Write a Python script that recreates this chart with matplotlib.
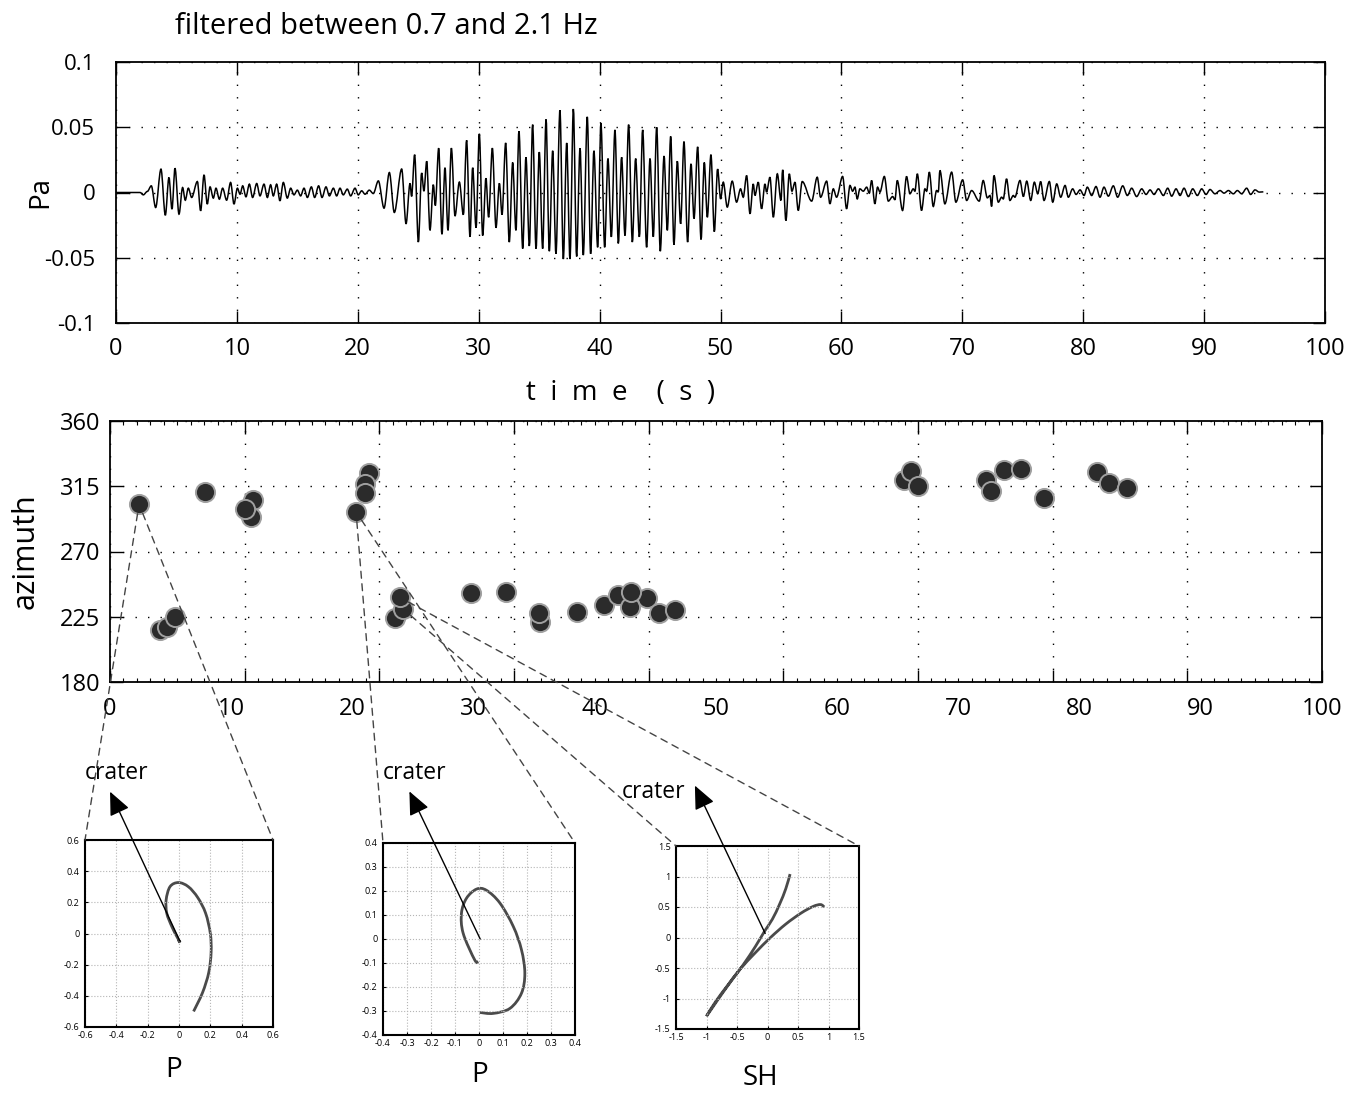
import numpy as np
import matplotlib
matplotlib.use('Agg')
import matplotlib.pyplot as plt
from matplotlib.patches import ConnectionPatch, PathPatch
from matplotlib.path import Path
from matplotlib.ticker import FuncFormatter

plt.rcParams['font.family'] = ['Open Sans', 'DejaVu Sans']

# ---- filtered pressure trace, read as successive extrema (s, Pa) ----
t_onset = [0, 1.99, 2.26, 2.59, 2.92, 3.28, 3.72, 4.08, 4.38, 4.63,
           4.88, 5.21, 5.51, 5.73, 5.98, 6.26, 6.73, 7.00, 7.28, 7.55,
           7.78, 8.05, 8.27, 8.55, 8.82, 9.15, 9.48, 9.76, 10.04, 10.26,
           10.48, 10.75, 11.03, 11.30, 11.64, 11.91, 12.24, 12.52, 12.79, 13.01,
           13.29, 13.56, 13.84, 14.17, 14.45, 14.72, 15.00, 15.27, 15.55, 15.83,
           16.16, 16.43, 16.76, 17.04, 17.37, 17.65, 17.98, 18.25, 18.53, 18.80,
           19.13, 19.41, 19.77, 20.04, 20.32, 20.60, 20.95, 21.28, 21.70, 22.17,
           22.61, 23.02]
p_onset = [0, 0, -0.0018, 0.0008, 0.0051, -0.0115, 0.0179, -0.0174, 0.0115, -0.0128,
           0.0186, -0.0166, 0.0038, -0.0059, 0.0033, -0.0038, 0.0084, -0.0140, 0.0135, -0.0089,
           0.0043, -0.0043, 0.0033, -0.0051, 0.0033, -0.0059, 0.0077, -0.0089, 0.0033, -0.0013,
           0.0051, -0.0033, 0.0064, -0.0038, 0.0069, -0.0026, 0.0064, -0.0038, 0.0059, -0.0026,
           0.0064, -0.0064, 0.0077, -0.0043, 0.0033, -0.0018, 0.0018, -0.0026, 0.0033, -0.0038,
           0.0043, -0.0038, 0.0051, -0.0038, 0.0043, -0.0026, 0.0033, -0.0026, 0.0033, -0.0018,
           0.0026, -0.0026, 0.0033, -0.0018, 0.0013, -0.0013, 0.0018, -0.0008, 0.0089, -0.0120,
           0.0153, -0.0153]

t_main = [23.63, 23.99, 24.32, 24.45, 24.70, 25.01, 25.28, 25.47, 25.70, 25.97,
          26.25, 26.41, 26.69, 26.96, 27.21, 27.46, 27.74, 28.04, 28.40, 28.73,
          29.00, 29.28, 29.50, 29.78, 30.05, 30.33, 30.60, 30.82, 31.13, 31.43,
          31.71, 31.93, 32.23, 32.53, 32.81, 33.08, 33.33, 33.64, 33.91, 34.19,
          34.46, 34.74, 35.01, 35.29, 35.57, 35.84, 36.12, 36.39, 36.72, 37.00,
          37.28, 37.55, 37.83, 38.10, 38.38, 38.65, 38.98, 39.26, 39.53, 39.84,
          40.11, 40.42, 40.69, 40.97, 41.27, 41.55, 41.82, 42.10, 42.40, 42.71,
          42.98, 43.29, 43.56, 43.89, 44.17, 44.44, 44.72, 45.02, 45.33, 45.60,
          45.88, 46.15, 46.43, 46.70, 46.98, 47.28, 47.56, 47.81, 48.11, 48.39,
          48.66, 48.91, 49.21, 49.49, 49.76, 50.01]
p_main = [0.018, -0.024, 0.007, -0.003, 0.029, -0.038, 0.015, 0.001, 0.024, -0.029,
          0.006, -0.010, 0.034, -0.032, 0.019, -0.029, 0.034, -0.018, 0.008, -0.017,
          0.040, -0.034, 0.019, -0.027, 0.045, -0.033, 0.011, -0.019, 0.034, -0.027,
          0.007, -0.017, 0.038, -0.038, 0.023, -0.029, 0.047, -0.043, 0.027, -0.041,
          0.052, -0.043, 0.031, -0.043, 0.056, -0.045, 0.032, -0.047, 0.063, -0.051,
          0.038, -0.051, 0.064, -0.049, 0.034, -0.048, 0.058, -0.047, 0.032, -0.042,
          0.053, -0.042, 0.026, -0.034, 0.048, -0.039, 0.027, -0.033, 0.052, -0.038,
          0.026, -0.034, 0.048, -0.042, 0.026, -0.034, 0.050, -0.045, 0.028, -0.029,
          0.043, -0.040, 0.024, -0.024, 0.039, -0.038, 0.022, -0.020, 0.035, -0.036,
          0.023, -0.019, 0.029, -0.030, 0.018, -0.005]

t_coda = [50.23, 50.56, 50.97, 51.33, 51.66, 51.88, 52.16, 52.44, 52.71, 52.85,
          53.12, 53.40, 53.68, 53.81, 54.09, 54.37, 54.70, 55.00, 55.14, 55.41,
          55.69, 55.91, 56.16, 56.43, 56.76, 57.54, 58.00, 58.28, 58.78, 59.05,
          59.33, 59.60, 60.10, 60.43, 60.71, 60.93, 61.12, 61.31, 61.53, 61.81,
          62.09, 62.31, 62.50, 62.77, 62.99, 63.19, 63.55, 63.88, 64.24, 64.43,
          64.62, 65.06, 65.39, 65.67, 65.94, 66.08, 66.28, 66.63, 66.91, 67.05,
          67.27, 67.60, 67.87, 68.01, 68.15, 68.56, 69.12, 69.47, 70.03, 70.36,
          70.77, 71.40, 71.73, 72.07, 72.29, 72.42, 72.62, 72.98, 73.25, 73.39,
          73.66, 73.94, 74.22, 74.35]
p_coda = [0.0079, -0.0112, 0.0087, -0.0074, 0.0028, -0.0036, 0.0130, -0.0163, 0.0066, -0.0023,
          0.0079, -0.0125, 0.0066, 0.0003, 0.0117, -0.0189, 0.0143, -0.0061, 0.0174, -0.0215,
          0.0143, 0.0010, 0.0079, -0.0138, 0.0084, -0.0066, 0.0117, -0.0036, 0.0087, -0.0087,
          0.0028, -0.0036, 0.0123, -0.0125, 0.0054, 0.0010, 0.0041, -0.0049, 0.0028, 0.0010,
          0.0041, -0.0005, 0.0092, -0.0087, 0.0041, 0.0003, 0.0123, -0.0066, -0.0031, -0.0056,
          0.0092, -0.0138, 0.0123, -0.0010, 0.0028, 0.0010, 0.0143, -0.0138, 0.0028, 0.0010,
          0.0156, -0.0107, 0.0015, 0.0003, 0.0169, -0.0087, 0.0156, -0.0074, 0.0097, -0.0061,
          0.0015, -0.0066, 0.0092, -0.0041, -0.0023, -0.0107, 0.0130, -0.0074, -0.0036, -0.0049,
          0.0105, -0.0061, -0.0023, -0.0036]

t_tail = [74.77, 75.05, 75.33, 75.66, 75.96, 76.24, 76.48, 76.76, 77.20, 77.48,
          77.81, 78.14, 78.50, 78.77, 79.13, 79.41, 79.74, 80.07, 80.34, 80.70,
          81.06, 81.39, 81.72, 82.08, 82.49, 82.85, 83.27, 83.65, 84.01, 84.42,
          84.84, 85.20, 85.53, 85.86, 86.22, 86.63, 86.99, 87.32, 87.68, 88.01,
          88.34, 88.70, 89.06, 89.44, 89.80, 90.16, 90.49, 90.90, 91.32, 91.65,
          92.01, 92.42, 92.75, 93.11, 93.52, 93.85, 94.21, 94.57, 94.90]
p_tail = [0.0092, -0.0031, 0.0087, -0.0061, 0.0079, -0.0010, 0.0084, -0.0061, 0.0084, -0.0074,
          0.0066, -0.0036, 0.0054, -0.0036, 0.0028, -0.0015, 0.0020, -0.0023, 0.0041, -0.0023,
          0.0046, -0.0036, 0.0041, -0.0028, 0.0051, -0.0036, 0.0051, -0.0023, 0.0033, -0.0031,
          0.0028, -0.0015, 0.0020, -0.0015, 0.0028, -0.0023, 0.0033, -0.0028, 0.0028, -0.0023,
          0.0033, -0.0031, 0.0028, -0.0023, 0.0028, -0.0015, 0.0023, -0.0010, 0.0015, -0.0005,
          0.0015, -0.0010, 0.0015, -0.0010, 0.0033, -0.0015, 0.0020, 0.0003, 0.0005]

# ---- azimuth estimates (time s, azimuth deg) ----
t_az = [2.4, 4.1, 4.7, 5.4, 7.8, 11.8, 11.6, 11.1, 20.3, 21.4, 21.0, 21.0,
        23.5, 24.2, 23.9, 29.8, 32.7, 35.5, 35.4, 38.5, 40.8, 41.9, 44.3, 42.9,
        43.0, 45.3, 46.6, 65.5, 66.1, 66.7, 72.3, 72.7, 73.8, 75.2, 77.1, 81.4,
        82.4, 83.9]
az = [302.6, 215.9, 218.1, 225.0, 310.8, 305.5, 293.6, 299.3, 297.4, 323.9, 316.6, 310.6,
      224.0, 230.3, 238.4, 241.1, 242.3, 221.6, 227.8, 228.5, 233.4, 240.0, 237.7, 231.9,
      242.3, 227.4, 229.7, 319.3, 325.5, 315.2, 319.3, 311.7, 326.2, 326.7, 307.1, 324.8,
      317.5, 313.6]

# which azimuth point each inset zooms from (left edge, right edge)
link_left = [0, 8, 13]
link_right = [0, 8, 14]

# ---- particle motion insets ----
pm1_x = [0.093, 0.15, 0.19, 0.205, 0.2, 0.17, 0.12, 0.06, -0.003, -0.057, -0.082, -0.078, -0.046, -0.014, 0.007, -0.005]
pm1_y = [-0.5, -0.38, -0.25, -0.12, 0.0, 0.13, 0.23, 0.30, 0.327, 0.301, 0.216, 0.13, 0.045, -0.019, -0.058, -0.04]
pm2_x = [-0.003, -0.018, -0.066, -0.073, -0.052, -0.01, 0.031, 0.087, 0.143, 0.177, 0.191, 0.177, 0.129, 0.059, 0.003]
pm2_y = [-0.094, -0.087, 0.024, 0.108, 0.17, 0.208, 0.203, 0.150, 0.052, -0.045, -0.143, -0.226, -0.289, -0.31, -0.306]
pm3_x = [0.37, 0.30, 0.20, 0.08, -0.05, -0.20, -0.40, -0.60, -0.80, -1.0,
         -0.85, -0.65, -0.45, -0.2, 0.05, 0.30, 0.55, 0.75, 0.87, 0.93]
pm3_y = [1.04, 0.80, 0.55, 0.30, 0.10, -0.15, -0.45, -0.72, -1.0, -1.29,
         -1.05, -0.78, -0.52, -0.25, 0.0, 0.22, 0.40, 0.51, 0.54, 0.50]
pm_names = ['P', 'P', 'SH']
pm_lims = [0.6, 0.4, 1.5]
pm_steps = [0.2, 0.1, 0.5]
crater_from = [(0.007, -0.051), (0.005, 0.0), (-0.038, 0.066)]
crater_to = [(-0.44, 0.91), (-0.29, 0.615), (-1.19, 2.49)]

W, H = 1356, 1093


def box(l, t, r, b):
    return [l / W, 1 - b / H, (r - l) / W, (b - t) / H]


def wave_path(t, p):
    # smooth curve between successive extrema (flat tangent at each one)
    verts = [(t[0], p[0])]
    codes = [Path.MOVETO]
    for i in range(1, len(t)):
        dt = t[i] - t[i - 1]
        verts += [(t[i - 1] + dt / 3, p[i - 1]), (t[i] - dt / 3, p[i]), (t[i], p[i])]
        codes += [Path.CURVE4] * 3
    return Path(verts, codes)


def smooth_path(x, y):
    pts = np.column_stack([x, y])
    n = len(pts)
    verts = [pts[0]]
    codes = [Path.MOVETO]
    for i in range(n - 1):
        p0, p1 = pts[max(i - 1, 0)], pts[i]
        p2, p3 = pts[i + 1], pts[min(i + 2, n - 1)]
        verts += [p1 + (p2 - p0) / 6, p2 - (p3 - p1) / 6, p2]
        codes += [Path.CURVE4] * 3
    return Path(verts, codes)


tick_fmt = FuncFormatter(lambda v, pos: f'{round(v, 3) + 0:g}')
dots = (0, (1, 8))

fig = plt.figure(figsize=(W / 100, H / 100), dpi=100)

# top: pressure trace
ax1 = fig.add_axes(box(116, 62, 1325, 323))
ax1.add_patch(PathPatch(wave_path(t_onset + t_main + t_coda + t_tail,
                                  p_onset + p_main + p_coda + p_tail),
                        fill=False, edgecolor='black', lw=1.1))
ax1.set_xlim(0, 100)
ax1.set_ylim(-0.1, 0.1)
ax1.set_xticks(range(0, 101, 10))
ax1.set_yticks([-0.1, -0.05, 0, 0.05, 0.1])
ax1.yaxis.set_major_formatter(tick_fmt)
ax1.grid(True, color='black', linestyle=dots, lw=1)
ax1.tick_params(direction='in', length=9, width=1, top=True, right=True, labelsize=17)
ax1.tick_params(axis='x', pad=10)
ax1.tick_params(axis='y', pad=15, labelsize=16)
ax1.set_ylabel('Pa', fontsize=20)
ax1.yaxis.set_label_coords(-0.051, 0.5)
for s in ax1.spines.values():
    s.set_linewidth(1.3)

fig.text(175 / W, 1 - 27 / H, 'filtered between 0.7 and 2.1 Hz', fontsize=21, va='center')
fig.text(621 / W, 1 - 393 / H, 't  i  m  e    (  s  )', fontsize=20, ha='center', va='center')

# middle: azimuth
ax2 = fig.add_axes(box(110, 421, 1322, 682))
ax2.scatter(t_az, az, s=190, c='#2b2b2b', edgecolors='#a0a0a0', linewidths=1.4, zorder=3)
ax2.set_xlim(0, 100)
ax2.set_ylim(180, 360)
ax2.set_xticks(np.linspace(0, 100, 10))
ax2.set_xticklabels([])
ax2.set_xticks(np.linspace(0, 100, 91), minor=True)
ax2.set_yticks([180, 225, 270, 315, 360])
ax2.grid(True, which='major', color='black', linestyle=dots, lw=1)
ax2.tick_params(which='major', direction='in', length=9, width=1, top=True, right=True,
                labelsize=17, pad=7)
ax2.tick_params(which='minor', direction='in', length=3, width=0.8, top=True)
ax2.set_ylabel('azimuth', fontsize=22)
ax2.yaxis.set_label_coords(-0.057, 0.5)
for s in ax2.spines.values():
    s.set_linewidth(1.3)
sec = ax2.secondary_xaxis('bottom')
sec.set_xticks(range(0, 101, 10))
sec.tick_params(length=0, labelsize=17, pad=11)
sec.spines['bottom'].set_visible(False)

# bottom: particle motion insets
inset_boxes = [box(85, 840, 273, 1027), box(383, 843, 575, 1035), box(676, 846, 859, 1029)]
curves = [(pm1_x, pm1_y), (pm2_x, pm2_y), (pm3_x, pm3_y)]
crater_text = [(0.0, 1.36), (0.0, 1.365), (-0.295, 1.295)]
name_pos = [(0.47, -0.23), (0.505, -0.21), (0.46, -0.27)]

for k in range(3):
    axi = fig.add_axes(inset_boxes[k])
    cx, cy = curves[k]
    axi.add_patch(PathPatch(smooth_path(cx, cy), fill=False, edgecolor='#4a4a4a', lw=2))
    lim = pm_lims[k]
    ticks = np.round(np.arange(-lim, lim + pm_steps[k] / 2, pm_steps[k]), 2)
    axi.set_xlim(-lim, lim)
    axi.set_ylim(-lim, lim)
    axi.set_xticks(ticks)
    axi.set_yticks(ticks)
    axi.xaxis.set_major_formatter(tick_fmt)
    axi.yaxis.set_major_formatter(tick_fmt)
    axi.grid(True, color='#b5b5b5', linestyle=':', lw=0.8)
    axi.tick_params(direction='in', length=2, labelsize=6.5)
    axi.tick_params(axis='x', pad=3)
    axi.tick_params(axis='y', pad=4)
    for s in axi.spines.values():
        s.set_linewidth(1.5)
    axi.annotate('', xy=crater_to[k], xytext=crater_from[k], annotation_clip=False,
                 arrowprops=dict(arrowstyle='-|>,head_length=0.9,head_width=0.4',
                                 mutation_scale=16, lw=1, color='black',
                                 shrinkA=0, shrinkB=0))
    axi.text(crater_text[k][0], crater_text[k][1], 'crater', transform=axi.transAxes,
             fontsize=16.5, va='center', ha='left')
    axi.text(name_pos[k][0], name_pos[k][1], pm_names[k], transform=axi.transAxes,
             fontsize=20, va='center', ha='center')

    for idx, corner in ((link_left[k], (0, 1)), (link_right[k], (1, 1))):
        con = ConnectionPatch(xyA=(t_az[idx], az[idx]), coordsA=ax2.transData,
                              xyB=corner, coordsB=axi.transAxes,
                              color='#444444', lw=1, linestyle=(0, (5, 4)), shrinkA=7)
        fig.add_artist(con)

fig.savefig('out.png', dpi=100)
